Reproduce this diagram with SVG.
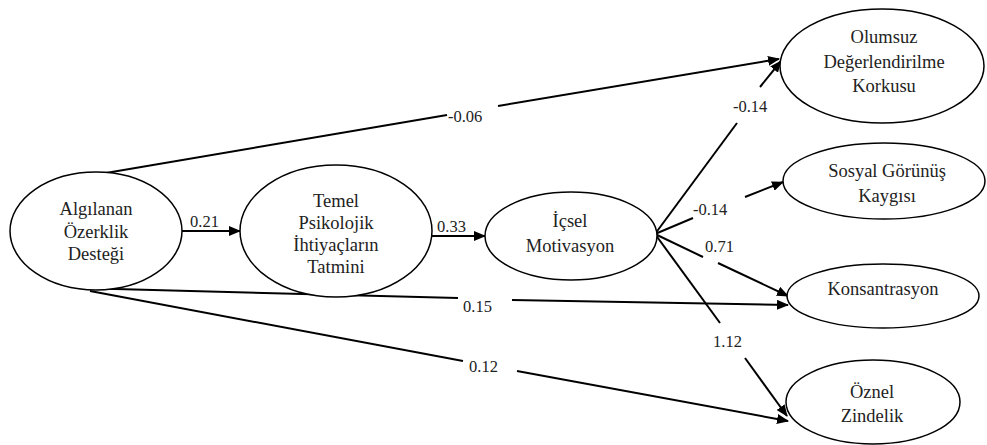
<svg xmlns="http://www.w3.org/2000/svg" width="987" height="445" viewBox="0 0 987 445" font-family="Liberation Serif, Times New Roman, serif">
<style>
.n{fill:#fff;stroke:#000;stroke-width:1.5}
.t{font-size:18.5px;fill:#222;text-anchor:middle}
.l{font-size:16.5px;fill:#222}
.e{fill:none;stroke:#000;stroke-width:2}
</style>
<defs>
<marker id="a" markerUnits="userSpaceOnUse" markerWidth="12" markerHeight="10" refX="11" refY="5" orient="auto">
<path d="M0,0 L12,5 L0,10 z" fill="#000"/>
</marker>
</defs>
<rect width="987" height="445" fill="#fff"/>
<g id="connectors">
<line class="e" x1="182" y1="231" x2="240" y2="231" marker-end="url(#a)"/>
<line class="e" x1="432" y1="236" x2="485" y2="236" marker-end="url(#a)"/>
<line class="e" x1="100" y1="174" x2="447" y2="115"/>
<line class="e" x1="498" y1="106" x2="779" y2="59" marker-end="url(#a)"/>
<line class="e" x1="655" y1="234" x2="737" y2="123"/>
<line class="e" x1="760" y1="87" x2="781" y2="61" marker-end="url(#a)"/>
<line class="e" x1="655" y1="234" x2="693" y2="218"/>
<line class="e" x1="745" y1="197" x2="783" y2="182" marker-end="url(#a)"/>
<line class="e" x1="655" y1="234" x2="703" y2="257"/>
<line class="e" x1="718" y1="263" x2="788" y2="296" marker-end="url(#a)"/>
<line class="e" x1="655" y1="234" x2="720" y2="323"/>
<line class="e" x1="745" y1="358" x2="787" y2="416" marker-end="url(#a)"/>
<line class="e" x1="78" y1="288" x2="458" y2="298"/>
<line class="e" x1="512" y1="300" x2="788" y2="305" marker-end="url(#a)"/>
<line class="e" x1="90" y1="291" x2="463" y2="361"/>
<line class="e" x1="517" y1="371" x2="788" y2="421" marker-end="url(#a)"/>
<text class="l" x="190" y="227">0.21</text>
<text class="l" x="437" y="232">0.33</text>
<text class="l" x="448" y="122">-0.06</text>
<text class="l" x="733" y="112">-0.14</text>
<text class="l" x="693" y="215">-0.14</text>
<text class="l" x="705" y="252">0.71</text>
<text class="l" x="713" y="347">1.12</text>
<text class="l" x="463" y="312">0.15</text>
<text class="l" x="469" y="372">0.12</text>
</g>
<g id="algilanan">
<ellipse class="n" cx="96" cy="231" rx="86" ry="59"/>
<text class="t" x="96" y="215">Algılanan</text>
<text class="t" x="96" y="238">Özerklik</text>
<text class="t" x="96" y="260">Desteği</text>
</g>
<g id="temel">
<ellipse class="n" cx="336" cy="231" rx="96" ry="66"/>
<text class="t" x="336" y="207">Temel</text>
<text class="t" x="336" y="229">Psikolojik</text>
<text class="t" x="336" y="251">İhtiyaçların</text>
<text class="t" x="336" y="273">Tatmini</text>
</g>
<g id="icsel">
<ellipse class="n" cx="571" cy="236" rx="86" ry="44"/>
<text class="t" x="570" y="227">İçsel</text>
<text class="t" x="570" y="252">Motivasyon</text>
</g>
<g id="olumsuz">
<ellipse class="n" cx="882" cy="66" rx="102" ry="57"/>
<text class="t" x="884" y="43">Olumsuz</text>
<text class="t" x="884" y="68">Değerlendirilme</text>
<text class="t" x="884" y="92">Korkusu</text>
</g>
<g id="sosyal">
<ellipse class="n" cx="884" cy="181" rx="101" ry="38"/>
<text class="t" x="887" y="177">Sosyal Görünüş</text>
<text class="t" x="887" y="202">Kaygısı</text>
</g>
<g id="konsantrasyon">
<ellipse class="n" cx="883" cy="296" rx="96" ry="32"/>
<text class="t" x="883" y="295">Konsantrasyon</text>
</g>
<g id="oznel">
<ellipse class="n" cx="873" cy="402" rx="87" ry="42"/>
<text class="t" x="872" y="398">Öznel</text>
<text class="t" x="872" y="422">Zindelik</text>
</g>
</svg>
